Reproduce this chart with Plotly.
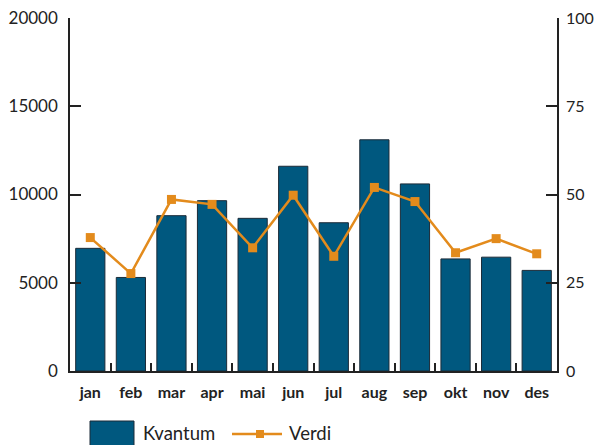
import plotly.graph_objects as go

months = ["jan", "feb", "mar", "apr", "mai", "jun", "jul", "aug", "sep", "okt", "nov", "des"]
kvantum = [6950, 5300, 8800, 9650, 8650, 11600, 8400, 13100, 10600, 6350, 6450, 5700]
verdi = [37.8, 27.6, 48.6, 47.2, 34.9, 49.8, 32.5, 52.0, 48.0, 33.5, 37.5, 33.2]
left_ticks = [0, 5000, 10000, 15000, 20000]
right_ticks = [0, 25, 50, 75, 100]
series_names = ["Kvantum", "Verdi"]

BAR = "#00587f"
ORANGE = "#e38b1c"
TXT = "#222222"
FONT = "Lato"

W, H = 595, 445
L, R, T, B = 70, 38, 18, 74
pw, ph = W - L - R, H - T - B


def px(x):
    return (x - L) / pw


def py(y):
    return (H - B - y) / ph


fig = go.Figure()
fig.add_trace(go.Bar(
    x=months, y=kvantum, name=series_names[0], width=0.72,
    marker=dict(color=BAR, line=dict(color="#1b2b38", width=1)),
    yaxis="y", showlegend=False,
))
fig.add_trace(go.Scatter(
    x=months, y=verdi, name=series_names[1], mode="lines+markers",
    line=dict(color=ORANGE, width=2.5),
    marker=dict(symbol="square", size=9, color=ORANGE),
    yaxis="y2", showlegend=False,
))

# manual legend
shapes = [
    dict(type="rect", xref="paper", yref="paper", x0=px(90), x1=px(134), y0=py(447), y1=py(421),
         fillcolor=BAR, line=dict(color="#1b2b38", width=1)),
    dict(type="line", xref="paper", yref="paper", x0=px(232), x1=px(282), y0=py(434), y1=py(434),
         line=dict(color=ORANGE, width=2.5)),
    dict(type="rect", xref="paper", yref="paper", x0=px(256), x1=px(264), y0=py(438), y1=py(430),
         fillcolor=ORANGE, line=dict(width=0)),
]
annotations = [
    dict(text=series_names[0], xref="paper", yref="paper", x=px(141), y=py(433), xanchor="left",
         yanchor="middle", showarrow=False, font=dict(size=18.5, family=FONT, color=TXT)),
    dict(text=series_names[1], xref="paper", yref="paper", x=px(287), y=py(433), xanchor="left",
         yanchor="middle", showarrow=False, font=dict(size=18.5, family=FONT, color=TXT)),
]

fig.update_layout(
    width=W, height=H,
    margin=dict(l=L, r=R, t=T, b=B),
    paper_bgcolor="white", plot_bgcolor="white",
    font=dict(family=FONT, color=TXT, size=17),
    showlegend=False,
    shapes=shapes, annotations=annotations,
    xaxis=dict(
        type="category", showline=True, linecolor="#222", linewidth=2,
        ticks="inside", tickson="boundaries", ticklen=8, tickcolor="#222", tickwidth=1.5,
        tickfont=dict(size=16, family=FONT, color=TXT, weight="bold"),
        ticklabelstandoff=6,
        showgrid=False, zeroline=False, range=[-0.5, 11.5], automargin=False,
    ),
    yaxis=dict(
        range=[0, 20000], tickvals=left_ticks, ticktext=[str(v) for v in left_ticks],
        showline=True, linecolor="#222", linewidth=1.5,
        ticks="inside", ticklen=11, tickcolor="#222", tickwidth=1.5,
        ticklabelstandoff=7,
        showgrid=False, zeroline=False, tickfont=dict(size=17), automargin=False,
    ),
    yaxis2=dict(
        range=[0, 100], tickvals=right_ticks, ticktext=[str(v) for v in right_ticks],
        overlaying="y", side="right",
        showline=True, linecolor="#222", linewidth=1.5,
        ticks="inside", ticklen=11, tickcolor="#222", tickwidth=1.5,
        ticklabelstandoff=4,
        showgrid=False, zeroline=False, tickfont=dict(size=16), automargin=False,
    ),
)

fig.write_html("out.html", config={"displayModeBar": False},
               post_script="document.body.style.margin='0px';document.body.style.overflow='hidden';")
